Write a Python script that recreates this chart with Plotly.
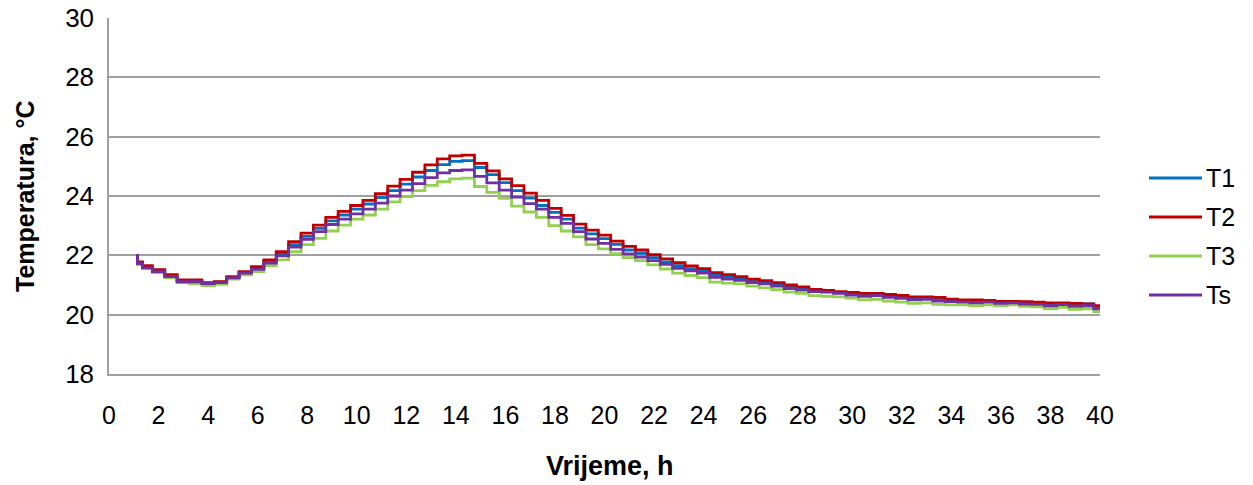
import plotly.graph_objects as go

# Elapsed time, h
hours = [1.1, 1.2, 1.5, 2.0, 2.5, 3.0, 3.5, 4.0, 4.5, 5.0, 5.5, 6.0, 6.5, 7.0, 7.5, 8.0,
         8.5, 9.0, 9.5, 10.0, 10.5, 11.0, 11.5, 12.0, 12.5, 13.0, 13.5, 14.0, 14.5, 15.0,
         15.5, 16.0, 16.5, 17.0, 17.5, 18.0, 18.5, 19.0, 19.5, 20.0, 20.5, 21.0, 21.5,
         22.0, 22.5, 23.0, 23.5, 24.0, 24.5, 25.0, 25.5, 26.0, 26.5, 27.0, 27.5, 28.0,
         28.5, 29.0, 29.5, 30.0, 30.5, 31.0, 31.5, 32.0, 32.5, 33.0, 33.5, 34.0, 34.5,
         35.0, 35.5, 36.0, 36.5, 37.0, 37.5, 38.0, 38.5, 39.0, 39.5, 40.0]

# Temperatures, °C
t1 = [22.00, 21.75, 21.60, 21.48, 21.32, 21.12, 21.12, 21.06, 21.10, 21.26, 21.42, 21.58,
      21.80, 22.05, 22.36, 22.64, 22.91, 23.16, 23.36, 23.56, 23.73, 23.95, 24.18, 24.40,
      24.64, 24.86, 25.06, 25.17, 25.19, 24.96, 24.72, 24.45, 24.18, 23.93, 23.68, 23.45,
      23.22, 22.92, 22.72, 22.56, 22.37, 22.18, 22.07, 21.92, 21.78, 21.65, 21.54, 21.46,
      21.32, 21.26, 21.20, 21.12, 21.08, 21.00, 20.94, 20.88, 20.80, 20.78, 20.74, 20.72,
      20.66, 20.70, 20.64, 20.60, 20.56, 20.58, 20.52, 20.50, 20.46, 20.45, 20.44, 20.42,
      20.44, 20.40, 20.38, 20.35, 20.38, 20.34, 20.36, 20.24]

t2 = [22.00, 21.78, 21.65, 21.52, 21.35, 21.17, 21.17, 21.08, 21.11, 21.28, 21.45, 21.62,
      21.85, 22.12, 22.46, 22.75, 23.02, 23.28, 23.48, 23.68, 23.85, 24.08, 24.33, 24.56,
      24.80, 25.05, 25.25, 25.35, 25.38, 25.10, 24.85, 24.58, 24.35, 24.10, 23.85, 23.58,
      23.35, 23.05, 22.85, 22.68, 22.48, 22.30, 22.18, 22.02, 21.88, 21.75, 21.64, 21.55,
      21.42, 21.35, 21.28, 21.20, 21.15, 21.08, 21.00, 20.94, 20.85, 20.82, 20.78, 20.75,
      20.72, 20.72, 20.68, 20.65, 20.60, 20.60, 20.58, 20.52, 20.50, 20.50, 20.48, 20.45,
      20.45, 20.44, 20.42, 20.40, 20.40, 20.38, 20.36, 20.30]

t3 = [21.95, 21.68, 21.55, 21.42, 21.25, 21.08, 21.05, 20.98, 21.02, 21.20, 21.34, 21.45,
      21.65, 21.85, 22.12, 22.36, 22.57, 22.82, 23.02, 23.22, 23.36, 23.56, 23.80, 23.98,
      24.18, 24.36, 24.48, 24.58, 24.60, 24.32, 24.12, 23.92, 23.66, 23.46, 23.28, 23.00,
      22.82, 22.62, 22.36, 22.22, 22.06, 21.92, 21.82, 21.68, 21.54, 21.40, 21.32, 21.25,
      21.10, 21.06, 21.04, 20.96, 20.90, 20.84, 20.76, 20.72, 20.64, 20.62, 20.60, 20.56,
      20.50, 20.52, 20.46, 20.42, 20.38, 20.40, 20.35, 20.33, 20.33, 20.30, 20.33, 20.30,
      20.33, 20.28, 20.26, 20.20, 20.25, 20.18, 20.20, 20.10]

ts = [22.00, 21.72, 21.58, 21.45, 21.28, 21.11, 21.11, 21.05, 21.08, 21.24, 21.40, 21.53,
      21.74, 21.98, 22.28, 22.54, 22.80, 23.04, 23.22, 23.40, 23.56, 23.76, 24.00, 24.20,
      24.42, 24.62, 24.78, 24.86, 24.88, 24.66, 24.44, 24.20, 23.96, 23.74, 23.56, 23.28,
      23.08, 22.80, 22.55, 22.40, 22.20, 22.05, 21.94, 21.82, 21.70, 21.56, 21.48, 21.40,
      21.26, 21.20, 21.16, 21.08, 21.04, 20.96, 20.88, 20.83, 20.78, 20.76, 20.72, 20.66,
      20.62, 20.64, 20.58, 20.55, 20.50, 20.52, 20.46, 20.44, 20.42, 20.40, 20.42, 20.38,
      20.40, 20.36, 20.35, 20.30, 20.34, 20.28, 20.30, 20.20]

series_names = ["T1", "T2", "T3", "Ts"]
series_colors = ["#0070C0", "#C00000", "#92D050", "#7030A0"]

FONT = "Liberation Sans, Arial, sans-serif"

# Figure geometry (pixels)
W, H = 1253, 485
ML, MR, MT, MB = 109, 153, 18, 111
PW, PH = W - ML - MR, H - MT - MB


def px_x(px):
    return (px - ML) / PW


def px_y(py):
    return (H - MB - py) / PH


fig = go.Figure()

# Draw order: T3 below, then T1, T2, Ts on top
for name, vals, color in [("T3", t3, series_colors[2]), ("T1", t1, series_colors[0]),
                          ("T2", t2, series_colors[1]), ("Ts", ts, series_colors[3])]:
    fig.add_trace(go.Scatter(x=hours, y=vals, mode="lines", name=name,
                             line=dict(color=color, width=2.8, shape="hvh"),
                             showlegend=False))

# Legend at the right of the plot area
legend_y = [178, 217, 256, 295]
for name, color, py in zip(series_names, series_colors, legend_y):
    fig.add_shape(type="line", xref="paper", yref="paper", layer="above",
                  x0=px_x(1149), x1=px_x(1202), y0=px_y(py), y1=px_y(py),
                  line=dict(color=color, width=2.8))
    fig.add_annotation(xref="paper", yref="paper", x=px_x(1204), y=px_y(py),
                       text=name, showarrow=False, xanchor="left", yanchor="middle",
                       font=dict(family=FONT, size=25, color="#000000"))

# Axis titles
fig.add_annotation(xref="paper", yref="paper", x=px_x(610), y=px_y(466),
                   text="<b>Vrijeme, h</b>", showarrow=False,
                   xanchor="center", yanchor="middle",
                   font=dict(family=FONT, size=27, color="#000000"))
fig.add_annotation(xref="paper", yref="paper", x=px_x(25), y=px_y(196),
                   text="<b>Temperatura, °C</b>", showarrow=False, textangle=-90,
                   xanchor="center", yanchor="middle",
                   font=dict(family=FONT, size=25, color="#000000"))

grid_col = "#A0A0A0"
fig.update_layout(
    width=W, height=H,
    margin=dict(l=ML, r=MR, t=MT, b=MB),
    paper_bgcolor="white", plot_bgcolor="white",
    font=dict(family=FONT, color="#000000"),
    xaxis=dict(range=[0, 40], tickmode="linear", tick0=0, dtick=2,
               showgrid=False, zeroline=False, automargin=False,
               showline=True, linecolor=grid_col, linewidth=1.5,
               ticks="", ticklabelstandoff=18,
               tickfont=dict(family=FONT, size=25)),
    yaxis=dict(range=[18, 30], tickmode="linear", tick0=18, dtick=2,
               showgrid=True, gridcolor=grid_col, gridwidth=1.5,
               zeroline=False, showline=True, linecolor=grid_col, linewidth=1.5,
               automargin=False, ticks="", ticklabelstandoff=8,
               tickfont=dict(family=FONT, size=26)),
)

fig.write_html("out.html")
